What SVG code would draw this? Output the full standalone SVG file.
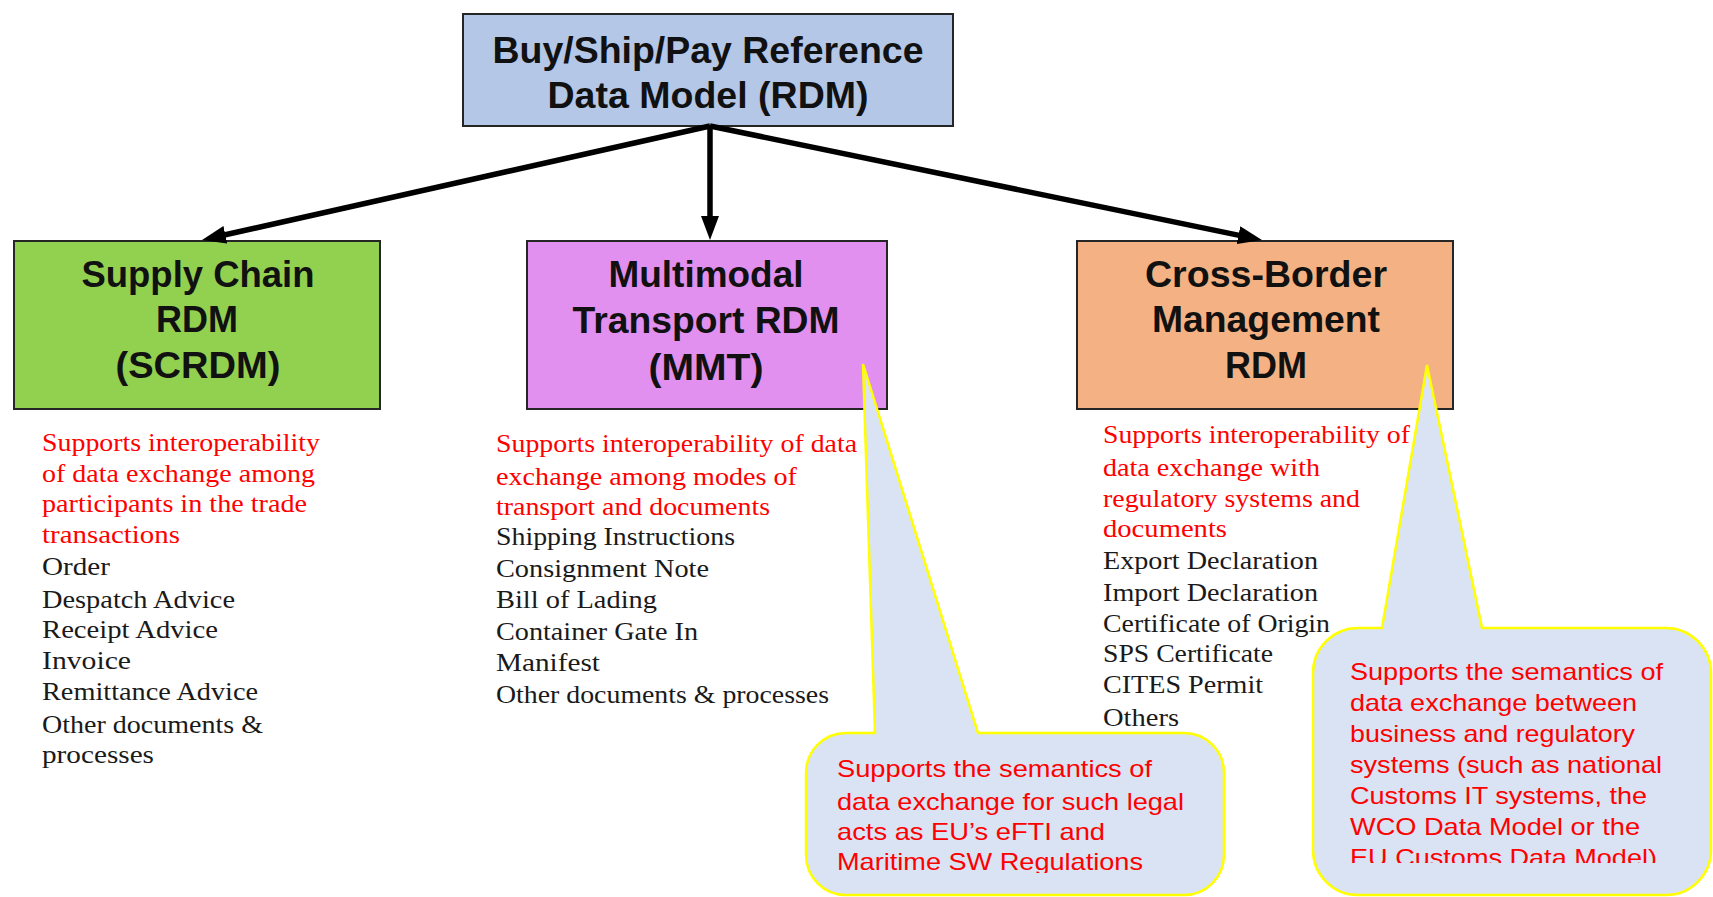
<svg xmlns="http://www.w3.org/2000/svg" width="1713" height="897" viewBox="0 0 1713 897">
<style>
.box{stroke:#262626;stroke-width:2}
.title{font-family:"Liberation Sans",Arial,sans-serif;font-weight:bold;font-size:36px;fill:#111;text-anchor:middle}
.body{font-family:"Liberation Serif","Times New Roman",serif;font-size:25px}
.red{fill:#ff0000}
.blk{fill:#1a1a1a}
.callout{fill:#DAE3F3;stroke:#FFFF00;stroke-width:2.5;stroke-linejoin:miter}
.ctext{font-family:"Liberation Sans",Arial,sans-serif;font-size:24px;fill:#ff0000}
.conn{stroke:#000;stroke-width:5.5;fill:none}
</style>
<defs>
<marker id="ah" markerUnits="userSpaceOnUse" viewBox="0 0 24 18" markerWidth="24" markerHeight="18" refX="7" refY="9" orient="auto">
<path d="M0,0 L24,9 L0,18 z" fill="#000"/>
</marker>
<clipPath id="clip1"><rect x="800" y="700" width="430" height="173"/></clipPath>
<clipPath id="clip2"><rect x="1300" y="640" width="413" height="223"/></clipPath>
</defs>
<rect width="1713" height="897" fill="#fff"/>

<g id="node-top">
<rect class="box" x="463" y="14" width="490" height="112" fill="#B4C7E7"/>
<text class="title" x="708" y="63" font-size="37.5" textLength="431" lengthAdjust="spacingAndGlyphs">Buy/Ship/Pay Reference</text>
<text class="title" x="708" y="108" font-size="37.5" textLength="321" lengthAdjust="spacingAndGlyphs">Data Model (RDM)</text>
</g>

<g id="node-scrdm">
<rect class="box" x="14" y="241" width="366" height="168" fill="#92D050"/>
<text class="title" x="198" y="287" textLength="233" lengthAdjust="spacingAndGlyphs">Supply Chain</text>
<text class="title" x="197" y="332">RDM</text>
<text class="title" x="198" y="378" textLength="165" lengthAdjust="spacingAndGlyphs">(SCRDM)</text>
</g>

<g id="node-mmt">
<rect class="box" x="527" y="241" width="360" height="168" fill="#E290EF"/>
<text class="title" x="706" y="287" textLength="195" lengthAdjust="spacingAndGlyphs">Multimodal</text>
<text class="title" x="706" y="333" textLength="267" lengthAdjust="spacingAndGlyphs">Transport RDM</text>
<text class="title" x="706" y="380" textLength="115" lengthAdjust="spacingAndGlyphs">(MMT)</text>
</g>

<g id="node-cbm">
<rect class="box" x="1077" y="241" width="376" height="168" fill="#F4B183"/>
<text class="title" x="1266" y="287" textLength="242" lengthAdjust="spacingAndGlyphs">Cross-Border</text>
<text class="title" x="1266" y="332" textLength="228" lengthAdjust="spacingAndGlyphs">Management</text>
<text class="title" x="1266" y="378">RDM</text>
</g>

<g id="text-scrdm" class="body">
<text class="red" x="42" y="451" textLength="278" lengthAdjust="spacingAndGlyphs">Supports interoperability</text>
<text class="red" x="42" y="482" textLength="273" lengthAdjust="spacingAndGlyphs">of data exchange among</text>
<text class="red" x="42" y="512" textLength="265" lengthAdjust="spacingAndGlyphs">participants in the trade</text>
<text class="red" x="42" y="543" textLength="138" lengthAdjust="spacingAndGlyphs">transactions</text>
<text class="blk" x="42" y="575" textLength="68" lengthAdjust="spacingAndGlyphs">Order</text>
<text class="blk" x="42" y="608" textLength="193" lengthAdjust="spacingAndGlyphs">Despatch Advice</text>
<text class="blk" x="42" y="638" textLength="176" lengthAdjust="spacingAndGlyphs">Receipt Advice</text>
<text class="blk" x="42" y="669" textLength="89" lengthAdjust="spacingAndGlyphs">Invoice</text>
<text class="blk" x="42" y="700" textLength="216" lengthAdjust="spacingAndGlyphs">Remittance Advice</text>
<text class="blk" x="42" y="733" textLength="221" lengthAdjust="spacingAndGlyphs">Other documents &amp;</text>
<text class="blk" x="42" y="763" textLength="112" lengthAdjust="spacingAndGlyphs">processes</text>
</g>

<g id="text-mmt" class="body">
<text class="red" x="496" y="452" textLength="361" lengthAdjust="spacingAndGlyphs">Supports interoperability of data</text>
<text class="red" x="496" y="485" textLength="301" lengthAdjust="spacingAndGlyphs">exchange among modes of</text>
<text class="red" x="496" y="515" textLength="274" lengthAdjust="spacingAndGlyphs">transport and documents</text>
<text class="blk" x="496" y="545" textLength="239" lengthAdjust="spacingAndGlyphs">Shipping Instructions</text>
<text class="blk" x="496" y="577" textLength="213" lengthAdjust="spacingAndGlyphs">Consignment Note</text>
<text class="blk" x="496" y="608" textLength="161" lengthAdjust="spacingAndGlyphs">Bill of Lading</text>
<text class="blk" x="496" y="640" textLength="202" lengthAdjust="spacingAndGlyphs">Container Gate In</text>
<text class="blk" x="496" y="671" textLength="104" lengthAdjust="spacingAndGlyphs">Manifest</text>
<text class="blk" x="496" y="703" textLength="333" lengthAdjust="spacingAndGlyphs">Other documents &amp; processes</text>
</g>

<g id="text-cbm" class="body">
<text class="red" x="1103" y="443" textLength="307" lengthAdjust="spacingAndGlyphs">Supports interoperability of</text>
<text class="red" x="1103" y="476" textLength="217" lengthAdjust="spacingAndGlyphs">data exchange with</text>
<text class="red" x="1103" y="507" textLength="257" lengthAdjust="spacingAndGlyphs">regulatory systems and</text>
<text class="red" x="1103" y="537" textLength="124" lengthAdjust="spacingAndGlyphs">documents</text>
<text class="blk" x="1103" y="569" textLength="215" lengthAdjust="spacingAndGlyphs">Export Declaration</text>
<text class="blk" x="1103" y="601" textLength="215" lengthAdjust="spacingAndGlyphs">Import Declaration</text>
<text class="blk" x="1103" y="632" textLength="227" lengthAdjust="spacingAndGlyphs">Certificate of Origin</text>
<text class="blk" x="1103" y="662" textLength="170" lengthAdjust="spacingAndGlyphs">SPS Certificate</text>
<text class="blk" x="1103" y="693" textLength="160" lengthAdjust="spacingAndGlyphs">CITES Permit</text>
<text class="blk" x="1103" y="726" textLength="76" lengthAdjust="spacingAndGlyphs">Others</text>
</g>

<g id="connectors">
<path class="conn" d="M710,126 L218.6,236.3" marker-end="url(#ah)"/>
<path class="conn" d="M710,126 L710,223" marker-end="url(#ah)"/>
<path class="conn" d="M710,126 L1245.3,236.6" marker-end="url(#ah)"/>
</g>

<g id="callout-mmt">
<path class="callout" d="M875,733 L863,364 L978,733 H1184 A40,40 0 0 1 1224,773 V855 A40,40 0 0 1 1184,895 H846 A40,40 0 0 1 806,855 V773 A40,40 0 0 1 846,733 Z"/>
<g clip-path="url(#clip1)" class="ctext">
<text x="837" y="777" textLength="315" lengthAdjust="spacingAndGlyphs">Supports the semantics of</text>
<text x="837" y="810" textLength="347" lengthAdjust="spacingAndGlyphs">data exchange for such legal</text>
<text x="837" y="840" textLength="268" lengthAdjust="spacingAndGlyphs">acts as EU’s eFTI and</text>
<text x="837" y="870" textLength="306" lengthAdjust="spacingAndGlyphs">Maritime SW Regulations</text>
</g>
</g>

<g id="callout-cbm">
<path class="callout" d="M1382,628 L1427,365 L1482,628 H1666 A45,45 0 0 1 1711,673 V850 A45,45 0 0 1 1666,895 H1358 A45,45 0 0 1 1313,850 V673 A45,45 0 0 1 1358,628 Z"/>
<g clip-path="url(#clip2)" class="ctext">
<text x="1350" y="680" textLength="313" lengthAdjust="spacingAndGlyphs">Supports the semantics of</text>
<text x="1350" y="711" textLength="287" lengthAdjust="spacingAndGlyphs">data exchange between</text>
<text x="1350" y="742" textLength="285" lengthAdjust="spacingAndGlyphs">business and regulatory</text>
<text x="1350" y="773" textLength="312" lengthAdjust="spacingAndGlyphs">systems (such as national</text>
<text x="1350" y="804" textLength="297" lengthAdjust="spacingAndGlyphs">Customs IT systems, the</text>
<text x="1350" y="835" textLength="290" lengthAdjust="spacingAndGlyphs">WCO Data Model or the</text>
<text x="1350" y="866" textLength="307" lengthAdjust="spacingAndGlyphs">EU Customs Data Model)</text>
</g>
</g>
</svg>
